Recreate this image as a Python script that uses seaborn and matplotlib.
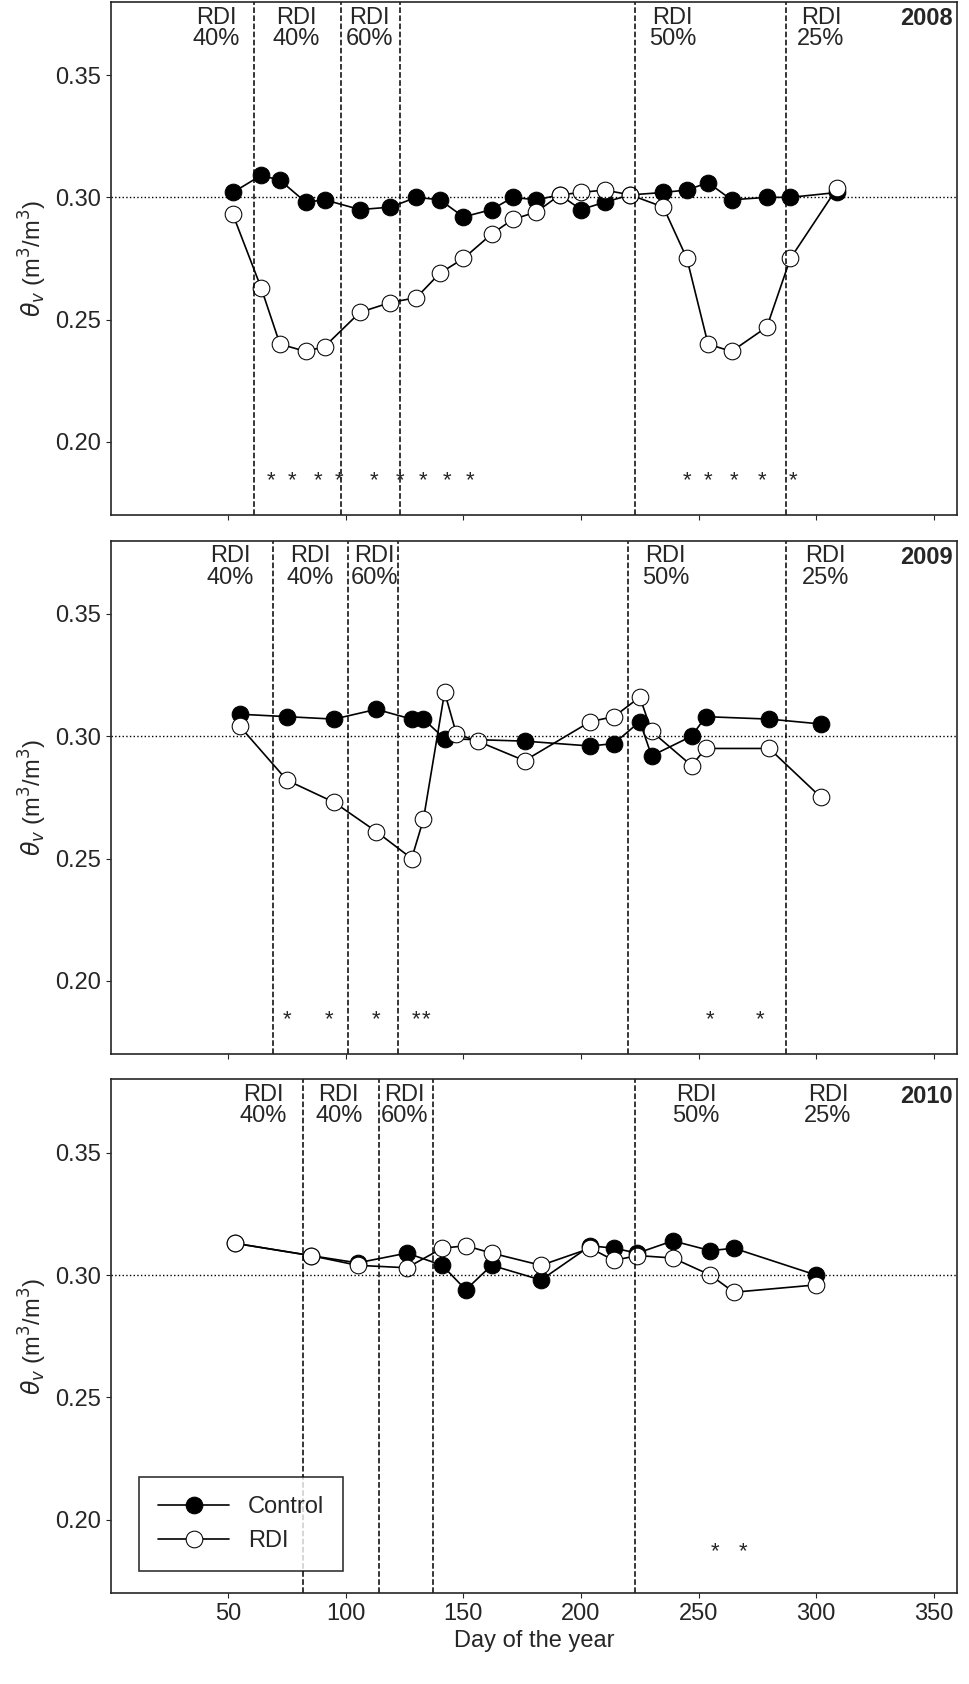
import pandas as pd
import seaborn as sns
import matplotlib.pyplot as plt

# ---- data ----
years = ['2008', '2009', '2010']

day_2008 = [52, 64, 72, 83, 91, 106, 119, 130, 140, 150, 162, 171, 181, 191, 200, 210, 221, 235, 245, 254, 264, 279, 289, 309]
ctrl_2008 = [0.302, 0.309, 0.307, 0.298, 0.299, 0.295, 0.296, 0.300, 0.299, 0.292, 0.295, 0.300, 0.299, 0.301, 0.295, 0.298,
             0.301, 0.302, 0.303, 0.306, 0.299, 0.300, 0.300, 0.302]
rdi_2008 = [0.293, 0.263, 0.240, 0.237, 0.239, 0.253, 0.257, 0.259, 0.269, 0.275, 0.285, 0.291, 0.294, 0.301, 0.302, 0.303,
            0.301, 0.296, 0.275, 0.240, 0.237, 0.247, 0.275, 0.304]

day_2009 = [55, 75, 95, 113, 128, 133, 142, 147, 156, 176, 204, 214, 225, 230, 247, 253, 280, 302]
ctrl_day_2009 = [55, 75, 95, 113, 128, 133, 142, 176, 204, 214, 225, 230, 247, 253, 280, 302]
ctrl_2009 = [0.309, 0.308, 0.307, 0.311, 0.307, 0.307, 0.299, 0.298, 0.296, 0.297, 0.306, 0.292, 0.300, 0.308, 0.307, 0.305]
rdi_2009 = [0.304, 0.282, 0.273, 0.261, 0.250, 0.266, 0.318, 0.301, 0.298, 0.290, 0.306, 0.308, 0.316, 0.302, 0.288, 0.295,
            0.295, 0.275]

day_2010 = [53, 85, 105, 126, 141, 151, 162, 183, 204, 214, 224, 239, 255, 265, 300]
ctrl_2010 = [0.313, 0.308, 0.305, 0.309, 0.304, 0.294, 0.304, 0.298, 0.312, 0.311, 0.309, 0.314, 0.310, 0.311, 0.300]
rdi_2010 = [0.313, 0.308, 0.304, 0.303, 0.311, 0.312, 0.309, 0.304, 0.311, 0.306, 0.308, 0.307, 0.300, 0.293, 0.296]

vlines = {'2008': [61, 98, 123, 223, 287], '2009': [69, 101, 122, 220, 287], '2010': [82, 114, 137, 223]}
rdi_labels = ['RDI\n40%', 'RDI\n40%', 'RDI\n60%', 'RDI\n50%', 'RDI\n25%']
label_x = {'2008': [45, 79, 110, 239, 302], '2009': [51, 85, 112, 236, 304], '2010': [65, 97, 125, 249, 305]}
stars = {'2008': [68, 77, 88, 97, 112, 123, 133, 143, 153, 245, 254, 265, 277, 290],
         '2009': [75, 93, 113, 130, 134, 255, 276],
         '2010': [257, 269]}
star_y = {'2008': 0.184, '2009': 0.184, '2010': 0.187}

series = {
    '2008': (day_2008, ctrl_2008, day_2008, rdi_2008),
    '2009': (ctrl_day_2009, ctrl_2009, day_2009, rdi_2009),
    '2010': (day_2010, ctrl_2010, day_2010, rdi_2010),
}

sns.set_style('ticks')
plt.rcParams['font.family'] = ['Liberation Sans Narrow', 'Liberation Sans', 'DejaVu Sans']
plt.rcParams['mathtext.fontset'] = 'custom'
plt.rcParams['mathtext.rm'] = 'Liberation Sans Narrow'
plt.rcParams['mathtext.it'] = 'Liberation Sans Narrow:italic'

fig = plt.figure(figsize=(9.7, 16.84), dpi=100)
bottoms = [0.694, 0.374, 0.054]
axes = [fig.add_axes([0.114, b, 0.873, 0.305]) for b in bottoms]

for ax, yr in zip(axes, years):
    cd, cv, rd, rv = series[yr]
    df_c = pd.DataFrame({'day': cd, 'theta': cv})
    df_r = pd.DataFrame({'day': rd, 'theta': rv})
    sns.lineplot(data=df_c, x='day', y='theta', ax=ax, sort=False, color='black', lw=1.2,
                 marker='o', markersize=12, markerfacecolor='black', markeredgecolor='black', label='Control')
    sns.lineplot(data=df_r, x='day', y='theta', ax=ax, sort=False, color='black', lw=1.2,
                 marker='o', markersize=12, markerfacecolor='white', markeredgecolor='black', label='RDI')
    ax.axhline(0.30, color='black', ls=':', lw=1)
    for v in vlines[yr]:
        ax.axvline(v, color='black', ls='--', lw=1.1)
    for lx, lab in zip(label_x[yr], rdi_labels):
        ax.text(lx, 0.378, lab, ha='center', va='top', fontsize=17, linespacing=0.95)
    for s in stars[yr]:
        ax.text(s, star_y[yr], '*', ha='center', va='center', fontsize=16)
    ax.text(0.995, 0.99, yr, transform=ax.transAxes, ha='right', va='top', fontsize=17, fontweight='bold')
    ax.set_xlim(0, 360)
    ax.set_ylim(0.17, 0.38)
    ax.set_yticks([0.20, 0.25, 0.30, 0.35])
    ax.set_yticklabels(['0.20', '0.25', '0.30', '0.35'])
    ax.set_xticks([50, 100, 150, 200, 250, 300, 350])
    ax.tick_params(labelsize=17)
    ax.set_ylabel(r'$\theta_v$ (m$^3$/m$^3$)', fontsize=17)
    ax.set_xlabel('')
    if yr != '2010':
        ax.set_xticklabels([])
        ax.get_legend().remove()
    else:
        ax.set_xlabel('Day of the year', fontsize=17)
        leg = ax.legend(loc='lower left', fontsize=17, frameon=True, fancybox=False, edgecolor='black',
                        borderpad=0.8, handlelength=3, bbox_to_anchor=(0.02, 0.02))
        leg.get_frame().set_linewidth(1.2)
    for sp in ax.spines.values():
        sp.set_linewidth(1.2)

plt.savefig('out.png')
